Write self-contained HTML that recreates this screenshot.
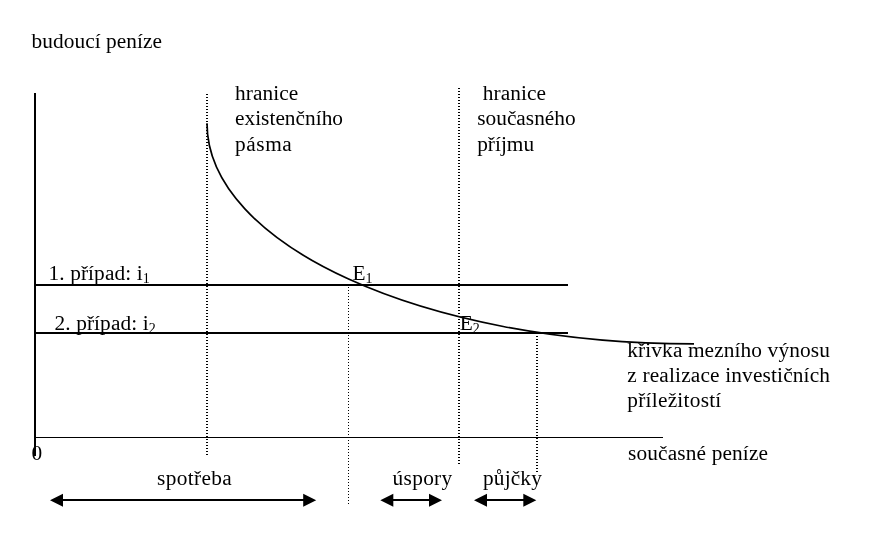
<!DOCTYPE html>
<html lang="cs">
<head>
<meta charset="utf-8">
<title>Graf</title>
<style>
html,body{margin:0;padding:0;background:#fff;}
body{width:896px;height:533px;overflow:hidden;position:relative;font-family:"Liberation Serif",serif;color:#000;}
svg{position:absolute;left:0;top:0;display:block;}
text{font-family:"Liberation Serif",serif;font-size:21.33px;fill:#000;}
.sub{font-size:14px;}
</style>
</head>
<body>
<svg width="896" height="533" viewBox="0 0 896 533">
<rect width="896" height="533" fill="#fff"/>
<g shape-rendering="crispEdges" stroke="#000" fill="none">
<line x1="35" y1="93" x2="35" y2="456" stroke-width="2"/>
<line x1="35" y1="437.5" x2="663" y2="437.5" stroke-width="1"/>
<line x1="35" y1="285" x2="568" y2="285" stroke-width="2"/>
<line x1="35" y1="333" x2="568" y2="333" stroke-width="2"/>
<line x1="207" y1="94" x2="207" y2="455" stroke-width="2" stroke-dasharray="1 2"/>
<line x1="459" y1="88" x2="459" y2="466" stroke-width="2" stroke-dasharray="1 2"/>
<line x1="348.5" y1="287" x2="348.5" y2="505" stroke-width="1" stroke-dasharray="1 2"/>
<line x1="537" y1="336" x2="537" y2="474" stroke-width="2" stroke-dasharray="1 2"/>
<line x1="60" y1="500" x2="306" y2="500" stroke-width="2"/>
<line x1="390" y1="500" x2="432" y2="500" stroke-width="2"/>
<line x1="484" y1="500" x2="526" y2="500" stroke-width="2"/>
</g>
<path d="M207,123.3 C207,244.5 422.2,343.9 694,343.9" fill="none" stroke="#000" stroke-width="1.7"/>
<g fill="#000">
<polygon points="50,500.3 63,493.8 63,506.8"/>
<polygon points="316.2,500.3 303.2,493.8 303.2,506.8"/>
<polygon points="380.3,500.3 393.3,493.8 393.3,506.8"/>
<polygon points="442,500.3 429,493.8 429,506.8"/>
<polygon points="474,500.3 487,493.8 487,506.8"/>
<polygon points="536.3,500.3 523.3,493.8 523.3,506.8"/>
</g>
<text x="31.5" y="48" textLength="130.5">budoucí peníze</text>
<text x="235" y="100" textLength="63.3">hranice</text>
<text x="235" y="125" textLength="108">existenčního</text>
<text x="235" y="151" textLength="56.8">pásma</text>
<text x="482.7" y="100" textLength="63.3">hranice</text>
<text x="477.2" y="125" textLength="98.5">současného</text>
<text x="477.2" y="151">příjmu</text>
<text x="48.5" y="279.7" letter-spacing="0.1">1. případ: i<tspan class="sub" dy="3">1</tspan></text>
<text x="54.5" y="330" letter-spacing="0.1">2. případ: i<tspan class="sub" dy="3">2</tspan></text>
<text x="352.4" y="280">E<tspan class="sub" dy="3">1</tspan></text>
<text x="459.8" y="330.3">E<tspan class="sub" dy="3">2</tspan></text>
<text x="627.3" y="356.5" textLength="202.5">křivka mezního výnosu</text>
<text x="627.3" y="382" textLength="202.7">z realizace investičních</text>
<text x="627.3" y="407" textLength="94">příležitostí</text>
<text x="628" y="459.5" textLength="140">současné peníze</text>
<text x="31.5" y="460">0</text>
<text x="157" y="485" textLength="74.8">spotřeba</text>
<text x="392.6" y="485" textLength="59.6">úspory</text>
<text x="483" y="485" textLength="58.8">půjčky</text>
</svg>
</body>
</html>
